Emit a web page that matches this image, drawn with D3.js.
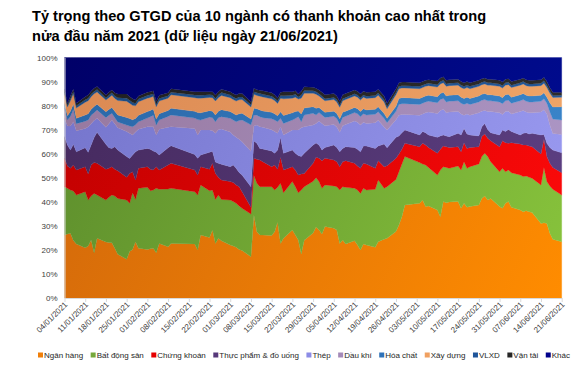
<!DOCTYPE html>
<html><head><meta charset="utf-8">
<script src="https://cdn.jsdelivr.net/npm/d3@7"></script>
<style>body{margin:0;background:#fff;} svg{display:block;font-family:"Liberation Sans",Arial,sans-serif;}</style>
</head><body><svg id="c" width="583" height="387"></svg>
<script>
const dates = ["2021-01-04","2021-01-05","2021-01-06","2021-01-07","2021-01-08",
"2021-01-11","2021-01-12","2021-01-13","2021-01-14","2021-01-15",
"2021-01-18","2021-01-19","2021-01-20","2021-01-21","2021-01-22",
"2021-01-25","2021-01-26","2021-01-27","2021-01-28","2021-01-29",
"2021-02-01","2021-02-02","2021-02-03","2021-02-04","2021-02-05",
"2021-02-08","2021-02-09","2021-02-17","2021-02-18","2021-02-19",
"2021-02-22","2021-02-23","2021-02-24","2021-02-25","2021-02-26",
"2021-03-01","2021-03-02","2021-03-03","2021-03-04","2021-03-05",
"2021-03-08","2021-03-09","2021-03-10","2021-03-11","2021-03-12",
"2021-03-15","2021-03-16","2021-03-17","2021-03-18","2021-03-19",
"2021-03-22","2021-03-23","2021-03-24","2021-03-25","2021-03-26",
"2021-03-29","2021-03-30","2021-03-31","2021-04-01","2021-04-02",
"2021-04-05","2021-04-06","2021-04-07","2021-04-08","2021-04-09",
"2021-04-12","2021-04-13","2021-04-14","2021-04-15","2021-04-16",
"2021-04-19","2021-04-20","2021-04-22","2021-04-23",
"2021-04-26","2021-04-27","2021-04-28","2021-04-29",
"2021-05-04","2021-05-05","2021-05-06","2021-05-07",
"2021-05-10","2021-05-11","2021-05-12","2021-05-13","2021-05-14",
"2021-05-17","2021-05-18","2021-05-19","2021-05-20","2021-05-21",
"2021-05-24","2021-05-25","2021-05-26","2021-05-27","2021-05-28",
"2021-05-31","2021-06-01","2021-06-02","2021-06-03","2021-06-04",
"2021-06-07","2021-06-08","2021-06-09","2021-06-10","2021-06-11",
"2021-06-14","2021-06-15","2021-06-16","2021-06-17","2021-06-18",
"2021-06-21"];

const seriesNames = ["Ngân hàng","Bất động sản","Chứng khoán","Thực phẩm & đồ uống","Thép","Dầu khí","Hóa chất","Xây dựng","VLXD","Vận tải","Khác"];

const nganHang = [26.2,26.6,26.9,23.9,22.5,20.9,21.6,24.1,18.8,24.8,
23.3,23.1,23.0,20.7,18.2,16.1,19.3,20.2,23.4,20.7,
20.2,20.5,20.7,18.8,22.7,21.3,22.7,22.5,20.0,26.2,
25.2,28.3,22.7,24.8,23.8,22.0,21.6,21.1,20.2,19.7,
17.2,34.5,27.5,26.2,26.2,26.0,27.5,31.5,22.7,24.8,
28.3,26.2,24.1,18.3,24.0,27.0,29.5,
28.3,26.6,29.7,29.0,28.3,22.7,24.1,22.5,23.8,22.0,
20.0,22.5,22.0,21.1,23.4,24.4,24.8,27.6,30.4,33.8,
38.7,39.4,40.7,38.0,38.3,36.6,33.8,40.1,39.6,39.9,
40.1,37.3,39.4,37.7,38.0,38.7,41.4,42.4,40.7,41.4,
38.0,37.3,39.4,40.1,37.7,36.6,35.9,36.3,35.9,35.5,
31.0,31.3,31.0,26.9,24.4,23.4];

const batDongSan = [20.1,19.0,18.0,20.6,20.3,23.3,19.1,18.3,24.7,18.0,
17.4,18.8,19.8,21.7,23.2,24.6,20.1,23.6,17.6,24.9,
25.8,24.1,24.2,26.8,22.5,24.0,22.9,21.7,22.8,20.8,
19.4,16.6,18.3,18.0,17.2,18.7,18.5,18.3,18.1,17.6,
17.7,16.5,20.2,20.1,20.1,20.3,17.4,14.5,25.0,19.0,
20.1,20.1,19.7,26.6,22.3,21.5,20.5,
20.1,19.0,17.3,17.6,18.0,22.2,22.2,23.5,21.8,22.9,
23.5,23.1,22.9,24.1,25.7,21.2,21.5,21.7,22.1,21.9,
20.1,16.9,15.0,17.3,16.0,14.5,19.4,14.5,14.7,14.0,
14.8,15.9,17.3,16.2,16.6,17.0,17.4,17.8,18.1,15.3,
14.5,16.6,13.1,13.1,14.4,14.5,14.6,14.4,14.3,14.3,
16.0,23.0,17.4,19.7,20.8,19.4];

const chungKhoan = [11.8,9.3,9.0,10.8,10.4,10.4,10.9,12.9,12.8,13.2,
12.8,12.0,11.8,11.1,11.5,9.5,12.4,8.7,8.1,8.3,
8.6,8.9,8.3,9.0,8.0,10.0,10.4,9.0,8.3,7.6,
8.9,11.1,10.8,7.4,8.1,7.7,7.9,7.6,8.0,6.9,
2.8,7.1,10.0,11.1,10.4,8.3,10.4,7.5,10.8,9.4,
6.2,6.9,7.3,6.7,5.5,7.5,8.5,
9.7,11.5,11.1,10.8,10.4,9.7,10.4,11.1,10.4,10.0,
10.4,10.4,10.8,8.7,8.0,9.0,8.7,8.8,7.4,6.1,
5.5,6.6,8.6,8.3,8.3,9.1,8.6,8.6,8.6,8.7,
8.0,7.6,7.9,8.3,8.0,7.2,8.3,8.0,7.6,8.7,
10.4,11.5,12.1,11.1,12.5,12.9,13.1,12.9,13.0,13.1,
12.9,11.7,10.4,9.4,9.1,9.3];

const thucPham = [9.0,8.7,7.6,8.6,7.6,7.9,9.0,8.3,10.4,12.9,
10.4,8.6,7.6,9.4,8.6,8.6,6.2,7.0,11.7,7.6,
7.6,8.4,7.9,6.0,6.3,7.2,7.3,6.5,7.0,4.9,
7.1,5.0,4.7,5.8,6.5,6.2,7.3,6.9,5.9,6.9,
8.6,7.2,6.6,4.8,5.3,6.5,4.9,8.0,8.2,7.0,
6.9,7.0,8.1,7.2,8.4,7.6,6.0,
5.5,4.4,4.5,6.2,5.9,6.2,5.5,5.8,6.6,6.9,
6.9,7.2,7.5,8.3,6.1,9.4,7.5,8.7,7.5,6.9,
5.6,4.9,4.9,5.1,5.2,6.6,5.6,4.6,4.5,4.5,
5.6,7.0,5.9,6.0,5.2,4.5,4.1,4.4,3.7,3.3,
4.9,4.5,4.6,5.8,4.6,3.8,4.9,5.1,5.0,5.6,
7.9,2.0,5.5,6.6,7.2,8.3];

const thep = [7.6,7.9,10.0,9.4,8.7,8.0,10.6,8.9,7.1,5.8,
7.1,10.0,11.8,9.6,9.3,10.4,10.5,8.3,8.2,8.7,
9.0,9.3,10.1,7.2,10.7,8.5,7.9,10.8,9.7,10.4,
9.3,8.5,12.0,14.0,14.7,14.4,12.5,12.9,13.8,13.9,
14.7,6.2,7.6,9.0,9.0,8.9,9.0,7.0,4.5,7.6,
8.4,9.7,10.7,12.0,11.0,8.3,8.1,
10.0,11.1,9.0,8.5,8.5,8.1,9.4,9.2,11.0,11.3,
11.1,9.9,9.4,10.7,10.7,7.1,7.4,7.3,8.6,7.6,
6.4,8.2,7.3,8.3,9.5,9.9,10.6,10.7,9.6,10.2,
9.0,8.7,5.5,8.3,8.2,9.6,6.5,5.4,7.4,8.8,
9.2,6.4,8.3,7.6,7.3,9.7,9.5,8.6,8.8,8.5,
9.5,10.3,12.2,9.3,6.9,7.6];

const dauKhi = [4.2,2.5,4.0,5.2,3.0,3.0,2.8,3.5,3.2,3.5,
4.0,3.5,2.8,2.5,2.4,2.7,3.0,3.4,3.0,3.1,
3.6,4.2,4.8,4.1,3.8,4.5,4.9,4.3,6.4,4.1,
5.3,5.5,4.8,5.0,5.1,5.7,6.2,6.5,7.8,9.0,
11.0,4.6,4.1,4.2,4.0,4.5,4.8,4.8,3.5,4.8,
4.1,4.7,5.5,2.5,4.9,4.9,3.5,
3.5,3.5,3.5,3.5,3.5,3.5,3.5,3.5,3.5,3.5,
3.5,3.5,3.5,3.5,3.5,3.5,3.0,3.5,4.5,4.5,
4.5,4.5,4.5,4.5,4.5,4.5,4.5,4.5,4.5,4.5,
4.5,4.5,4.5,4.5,4.5,4.5,4.5,4.5,4.5,4.5,
4.5,4.5,4.5,4.5,4.5,4.5,4.5,4.5,4.5,4.5,
4.5,4.5,4.5,5.5,6.0,6.0];

const hoaChat = [2.0,1.8,2.2,2.2,2.2,2.6,2.6,2.5,2.6,2.4,
2.4,2.4,2.4,2.6,2.9,3.2,3.1,2.9,2.6,2.7,
2.7,2.6,2.6,2.5,2.6,2.5,2.8,2.8,2.9,3.0,
2.7,2.7,2.8,2.7,2.9,2.8,2.8,2.8,2.8,2.8,
2.4,2.8,2.7,2.8,2.8,2.7,2.6,2.5,2.7,3.3,
3.0,2.9,2.4,3.2,2.9,2.7,2.8,
2.1,2.1,2.1,2.1,2.1,2.1,2.1,2.1,2.1,2.1,
2.1,2.1,2.1,2.1,2.1,2.1,1.8,2.1,2.5,2.5,
2.5,2.5,2.5,2.5,2.5,2.5,2.5,2.5,2.5,2.5,
2.5,2.5,2.5,2.5,2.5,2.5,2.5,2.5,2.5,2.5,
2.5,2.5,2.5,2.5,2.5,2.5,2.5,2.5,2.5,2.5,
2.5,2.5,2.5,3.8,5.0,5.5];

const xayDung = [4.0,3.6,4.3,4.3,4.3,5.3,5.4,5.2,5.3,5.1,
4.9,4.9,5.1,5.4,6.0,6.7,6.4,6.0,5.3,5.6,
5.6,5.4,5.3,5.1,5.3,5.1,5.6,5.7,6.0,6.1,
5.5,5.6,5.8,5.6,5.9,5.8,5.7,5.8,5.8,5.7,
5.0,5.8,5.5,5.7,5.8,5.6,5.5,5.1,5.7,6.9,
6.1,6.0,4.9,6.6,6.1,5.6,5.8,
4.8,4.8,4.8,4.8,4.8,4.8,4.8,4.8,4.8,4.8,
4.8,4.8,4.8,4.8,4.8,4.8,4.0,4.8,4.0,4.0,
4.0,4.0,4.0,4.0,4.0,4.0,4.0,4.0,4.0,4.0,
4.0,4.0,4.0,4.0,4.0,4.0,4.0,4.0,4.0,4.0,
4.0,4.0,4.0,4.0,4.0,4.0,4.0,4.0,4.0,4.0,
4.0,4.0,4.0,4.0,4.0,4.0];

const vlxd = [0.8,0.7,0.9,0.9,0.9,1.0,1.1,1.0,1.0,1.0,
0.9,1.0,1.0,1.0,1.2,1.3,1.2,1.2,1.1,1.1,
1.1,1.1,1.0,1.0,1.1,1.0,1.1,1.1,1.2,1.2,
1.1,1.1,1.1,1.1,1.2,1.1,1.1,1.1,1.2,1.1,
1.0,1.1,1.1,1.1,1.1,1.1,1.0,1.0,1.1,1.3,
1.2,1.2,0.9,1.3,1.2,1.1,1.1,
0.9,0.9,0.9,0.9,0.9,0.9,0.9,0.9,0.9,0.9,
0.9,0.9,0.9,0.9,0.9,0.9,0.8,0.9,1.0,1.0,
1.0,1.0,1.0,1.0,1.0,1.0,1.0,1.0,1.0,1.0,
1.0,1.0,1.0,1.0,1.0,1.0,1.0,1.0,1.0,1.0,
1.0,1.0,1.0,1.0,1.0,1.0,1.0,1.0,1.0,1.0,
1.0,1.0,1.0,0.9,0.8,0.8];

const vanTai = [1.1,0.9,1.1,1.1,1.1,1.3,1.3,1.3,1.3,1.2,
1.2,1.2,1.2,1.3,1.5,1.7,1.6,1.5,1.3,1.3,
1.4,1.3,1.3,1.3,1.3,1.2,1.4,1.4,1.5,1.5,
1.3,1.4,1.4,1.4,1.4,1.4,1.4,1.4,1.4,1.4,
1.2,1.4,1.3,1.4,1.5,1.4,1.4,1.3,1.4,1.7,
1.5,1.5,1.2,1.6,1.5,1.4,1.4,
1.6,1.6,1.6,1.6,1.6,1.6,1.6,1.6,1.6,1.6,
1.6,1.6,1.6,1.6,1.6,1.6,1.5,1.6,1.5,1.5,
1.5,1.5,1.5,1.5,1.5,1.5,1.5,1.5,1.5,1.5,
1.5,1.5,1.5,1.5,1.5,1.5,1.5,1.5,1.5,1.5,
1.5,1.5,1.5,1.5,1.5,1.5,1.5,1.5,1.5,1.5,
1.5,1.5,1.5,1.4,1.3,1.2];

const khac = [13.2,19.0,16.0,13.0,19.0,16.3,15.6,14.0,12.8,12.1,
15.6,14.5,13.5,14.7,15.2,15.2,16.2,17.2,17.7,16.0,
14.4,14.2,13.8,18.2,15.7,14.7,13.0,14.2,14.2,14.2,
14.2,14.2,15.6,14.2,13.2,14.2,15.0,15.6,15.0,15.0,
18.4,12.8,13.4,13.6,13.8,14.7,15.5,16.8,14.4,14.2,
14.2,13.8,15.2,14.0,12.2,12.4,12.8,
13.5,14.5,15.5,15.0,16.0,18.2,15.5,15.0,13.5,14.0,
15.2,14.0,14.5,14.2,13.2,16.0,19.0,13.0,10.5,10.2,
10.2,10.5,10.0,9.5,9.2,9.8,8.5,8.0,9.5,9.2,
9.0,10.0,10.5,10.0,10.5,9.5,8.8,8.5,9.0,9.0,
9.5,10.2,9.0,8.8,10.0,9.0,8.5,9.2,9.5,9.5,
9.2,8.2,10.0,12.5,14.5,14.5];

const yTickLabels = ["0%","10%","20%","30%","40%","50%","60%","70%","80%","90%","100%"];
const xTickLabels = ["04/01/2021","11/01/2021","18/01/2021","25/01/2021","01/02/2021","08/02/2021","15/02/2021","22/02/2021","01/03/2021","08/03/2021","15/03/2021","22/03/2021","29/03/2021","05/04/2021","12/04/2021","19/04/2021","26/04/2021","03/05/2021","10/05/2021","17/05/2021","24/05/2021","31/05/2021","07/06/2021","14/06/2021","21/06/2021"];
const titleLines = ["Tỷ trọng theo GTGD của 10 ngành có thanh khoản cao nhất trong","nửa đầu năm 2021 (dữ liệu ngày 21/06/2021)"];

const seriesValues = [nganHang,batDongSan,chungKhoan,thucPham,thep,dauKhi,hoaChat,xayDung,vlxd,vanTai,khac];
const gradColors = [["#d0670c","#ff8c00"],["#5c8c2c","#88c43c"],["#bf0000","#ff0a0a"],["#45295d","#5d4084"],
["#7474cb","#9c9cf3"],["#96779e","#ae99c9"],["#2a66a6","#3b88ce"],["#da8852","#f3a96a"],
["#1c4a80","#255a9c"],["#202020","#2e2e2e"],["#000068","#000d94"]];
const swatch = ["#f07f09","#76a83a","#e60000","#57397a","#8c8ce6","#a48ab8","#2f72b8","#f0a060","#20559a","#262626","#00008b"];

const L = 64.5, R = 561.7, T = 57.5, B = 298;
const svg = d3.select("#c");
const defs = svg.append("defs");
gradColors.forEach((c,k)=>{
  const g = defs.append("linearGradient").attr("id","g"+k).attr("gradientUnits","userSpaceOnUse")
    .attr("x1",L).attr("y1",T).attr("x2",R).attr("y2",B);
  g.append("stop").attr("offset","0%").attr("stop-color",c[0]);
  g.append("stop").attr("offset","100%").attr("stop-color",c[1]);
});

const parse = d3.timeParse("%Y-%m-%d");
const parseTick = d3.timeParse("%d/%m/%Y");
const rows = dates.map((d,i)=>{ const r={date:parse(d)}; seriesNames.forEach((n,k)=>r[n]=seriesValues[k][i]); return r; });
const stacked = d3.stack().keys(seriesNames).offset(d3.stackOffsetExpand)(rows);

const x = d3.scaleTime().domain([parseTick(xTickLabels[0]), parseTick(xTickLabels[xTickLabels.length-1])]).range([L,R]);
const y = d3.scaleLinear().domain([0,1]).range([B,T]);
const area = d3.area().x(d=>x(d.data.date)).y0(d=>y(d[0])).y1(d=>y(d[1]));

svg.append("g").selectAll("path").data(stacked).join("path")
  .attr("d",area).attr("fill",(d,k)=>`url(#g${k})`)
  .attr("stroke",(d,k)=>`url(#g${k})`).attr("stroke-width",0.3);

svg.append("g").selectAll("text").data(titleLines).join("text")
  .attr("x",32).attr("y",(d,i)=>21+i*19.5)
  .attr("font-size","14.6px").attr("font-weight","bold").attr("fill","#000").text(d=>d);

const yAx = svg.append("g").attr("transform",`translate(${L},0)`)
  .call(d3.axisLeft(y).tickValues(yTickLabels.map(s=>parseFloat(s)/100)).tickFormat((d,i)=>yTickLabels[i]).tickSize(0).tickPadding(7));
yAx.select(".domain").attr("stroke","#d9d9d9");
yAx.selectAll("text").attr("font-size","8px").attr("fill","#404040").attr("font-family","Liberation Sans, Arial, sans-serif");

const xAx = svg.append("g").attr("transform",`translate(0,${B})`)
  .call(d3.axisBottom(x).tickValues(xTickLabels.map(parseTick)).tickFormat((d,i)=>xTickLabels[i]).tickSize(4).tickSizeOuter(0));
xAx.select(".domain").attr("stroke","#d9d9d9");
xAx.selectAll(".tick line").attr("stroke","#d9d9d9");
xAx.selectAll("text").attr("x",0).attr("y",0).attr("dy",0)
  .attr("transform","translate(3,7) rotate(-45)").style("text-anchor","end")
  .attr("font-size","8px").attr("fill","#404040").attr("font-family","Liberation Sans, Arial, sans-serif");

// legend: spread from x=38 to x=570
const lg = svg.append("g").attr("font-size","8px").attr("fill","#262626");
const items = [];
seriesNames.forEach((n,k)=>{
  const it = lg.append("g");
  it.append("rect").attr("width",5).attr("height",5).attr("y",352.5).attr("fill",swatch[k]);
  const t = it.append("text").attr("x",6).attr("y",357.5).text(n);
  items.push([it, t.node().getComputedTextLength()]);
});
const used = items.reduce((s,[it,w])=>s+6+w,0);
const gap = Math.max(3,(570-38-used)/(items.length-1));
let lx = 38;
items.forEach(([it,w])=>{ it.attr("transform",`translate(${lx},0)`); lx += 6+w+gap; });
</script></body></html>
